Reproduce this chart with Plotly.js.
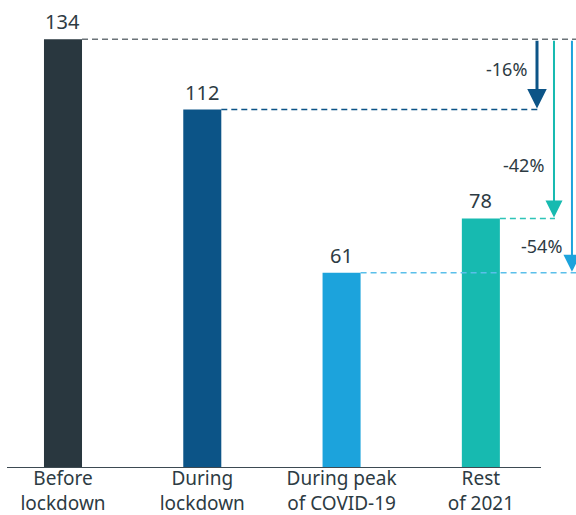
<!DOCTYPE html>
<html>
<head>
<meta charset="utf-8">
<script src="https://cdn.plot.ly/plotly-3.0.1.min.js"></script>
<style>html,body{margin:0;padding:0;background:#fff;}#chart{width:576px;height:515px;}</style>
</head>
<body>
<div id="chart"></div>
<script>
// ---- data ----
const categories = ["Before<br>lockdown", "During<br>lockdown", "During peak<br>of COVID-19", "Rest<br>of 2021"];
const values = [134, 112, 61, 78];
const barColors = ["#29373f", "#0c5487", "#1ca3dc", "#17bab0"];
// comparisons: [from index, to index]
const comparisons = [[0, 1], [0, 3], [0, 2]];

// ---- layout constants ----
const textColor = "#2d3b43";
const font = "Noto Sans, Open Sans, sans-serif";
const barWidth = 0.273;
const xs = categories.map((_, i) => i);
const lineEnds = [3.683, 3.417, 3.683, 3.532];   // where each dashed line ends (x units)
const lineColors = ["#6b7378", "#0c5487", "#5bbfea", "#2ec4b8"];
const arrowX = [3.403, 3.525, 3.654];
const arrowColors = ["#0c5487", "#17bab0", "#1ca3dc"];
const arrowWidths = [3, 2, 2];
const arrowSizes = [1.3, 1.7, 1.7];
const labelY = [124.7, 94.7, 69.4];

const shapes = [];
values.forEach((v, i) => {
  shapes.push({
    type: "line", xref: "x", yref: "y",
    x0: xs[i] + barWidth / 2, x1: lineEnds[i], y0: v, y1: v,
    line: {color: lineColors[i], width: 1.5, dash: "6px,4px"}
  });
});
// axis base line
shapes.push({type: "line", xref: "paper", yref: "y", x0: 0, x1: 0.9385, y0: 0, y1: 0,
  line: {color: "#3d4a52", width: 2}});

const annotations = [];
values.forEach((v, i) => {
  annotations.push({
    x: xs[i], y: v, xref: "x", yref: "y", text: String(v), showarrow: false,
    yanchor: "bottom", yshift: 2, font: {family: font, size: 20, color: textColor}
  });
});
comparisons.forEach(([a, b], k) => {
  const pct = Math.round((values[b] - values[a]) / values[a] * 100);
  annotations.push({
    x: arrowX[k], y: values[b], xref: "x", yref: "y",
    ax: arrowX[k], ay: values[a], axref: "x", ayref: "y",
    showarrow: true, arrowhead: 2, arrowsize: arrowSizes[k], arrowwidth: arrowWidths[k],
    arrowcolor: arrowColors[k], standoff: 1, startstandoff: 0, text: ""
  });
  annotations.push({
    x: arrowX[k], y: labelY[k], xref: "x", yref: "y", text: pct + "%",
    showarrow: false, xanchor: "right", xshift: -8,
    font: {family: font, size: 18, color: textColor}
  });
});

const trace = {
  type: "bar", x: xs, y: values, width: barWidth,
  marker: {color: barColors}, hoverinfo: "none"
};

const layout = {
  width: 576, height: 515,
  margin: {l: 7, r: 0, t: 10, b: 47, pad: 0},
  paper_bgcolor: "#fff", plot_bgcolor: "#fff",
  showlegend: false,
  font: {family: font, color: textColor},
  xaxis: {
    range: [-0.402, 3.683], tickvals: xs, ticktext: categories,
    showline: false, showgrid: false, zeroline: false, ticks: "",
    ticklabelstandoff: -3,
    tickfont: {family: font, size: 19, color: textColor}, fixedrange: true
  },
  yaxis: {
    range: [0, 143.125], visible: false, showgrid: false, zeroline: false, fixedrange: true
  },
  shapes: shapes,
  annotations: annotations
};

Plotly.newPlot("chart", [trace], layout, {displayModeBar: false, staticPlot: true});
</script>
</body>
</html>
